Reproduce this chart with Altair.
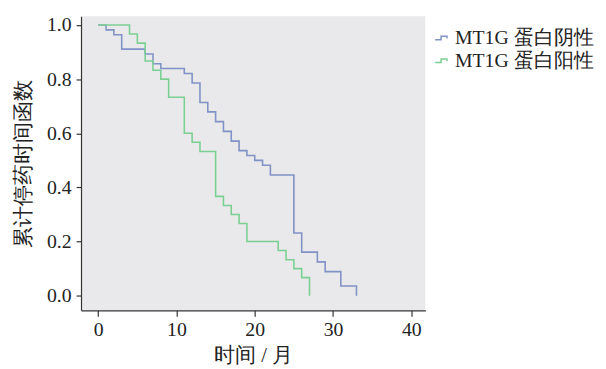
import altair as alt
import pandas as pd

neg_label = "MT1G 蛋白阴性"
pos_label = "MT1G 蛋白阳性"

neg_t = [0, 1, 2, 3, 6, 7, 8, 11, 12, 13, 14, 15, 16, 17, 18, 19, 20, 21, 22, 25, 26, 28, 29, 31, 33]
neg_s = [1.0, 0.982, 0.964, 0.911, 0.893, 0.857, 0.839, 0.821, 0.786, 0.714, 0.679, 0.643,
         0.607, 0.571, 0.536, 0.518, 0.5, 0.482, 0.446, 0.232, 0.161, 0.125, 0.089, 0.036, 0.0]

pos_t = [0, 4, 5, 6, 7, 8, 9, 11, 12, 13, 15, 16, 17, 18, 19, 23, 24, 25, 26, 27]
pos_s = [1.0, 0.967, 0.933, 0.867, 0.833, 0.8, 0.733, 0.6, 0.567, 0.533, 0.367, 0.333,
         0.3, 0.267, 0.2, 0.167, 0.133, 0.1, 0.067, 0.0]

x_ticks = [0, 10, 20, 30, 40]
y_ticks = [0.0, 0.2, 0.4, 0.6, 0.8, 1.0]

rows = []
for i, (t, s) in enumerate(zip(neg_t, neg_s)):
    rows.append({"g": neg_label, "t": t, "s": s, "o": i})
for i, (t, s) in enumerate(zip(pos_t, pos_s)):
    rows.append({"g": pos_label, "t": t, "s": s, "o": i})
df = pd.DataFrame(rows)

FONT = "serif"
TXT = "#222222"

chart = alt.Chart(df).mark_line(interpolate="step-after", strokeWidth=1.6).encode(
    x=alt.X("t:Q", scale=alt.Scale(domain=[-2.2, 41.8], nice=False, zero=False),
            axis=alt.Axis(values=x_ticks, title="时间 / 月", grid=False, format="d",
                          tickSize=6, labelPadding=3, titlePadding=6)),
    y=alt.Y("s:Q", scale=alt.Scale(domain=[-0.054, 1.032], nice=False, zero=False),
            axis=alt.Axis(values=y_ticks, title="累计停药时间函数", grid=False, format=".1f",
                          tickSize=5, labelPadding=5, titlePadding=13)),
    color=alt.Color("g:N", scale=alt.Scale(domain=[neg_label, pos_label],
                                           range=["#8092c6", "#7ccf92"]),
                    legend=alt.Legend(title=None, orient="none", legendX=356, legendY=12,
                                      symbolType="M-1,0.25 L-0.15,0.25 L-0.15,-0.25 L0.7,-0.25 L0.7,0.05",
                                      symbolSize=200, symbolStrokeWidth=1.5,
                                      symbolFillColor="transparent",
                                      labelFontSize=20, labelFont=FONT, labelColor=TXT,
                                      labelLimit=300,
                                      rowPadding=3, labelOffset=3)),
    order="o:Q",
).properties(
    width=349, height=298,
    autosize=alt.AutoSizeParams(type="none"),
    padding={"left": 74, "top": 6, "right": 175, "bottom": 57},
).configure_view(
    fill="#e9e9eb", stroke=None
).configure_axis(
    labelFont=FONT, titleFont=FONT, labelFontSize=20, titleFontSize=21,
    labelColor=TXT, titleColor=TXT, titleFontWeight="normal",
    domainColor="#333333", tickColor="#333333", domainWidth=1.2, tickWidth=1.2
)

chart.save("out.html", embed_options={"renderer": "svg", "actions": False})
